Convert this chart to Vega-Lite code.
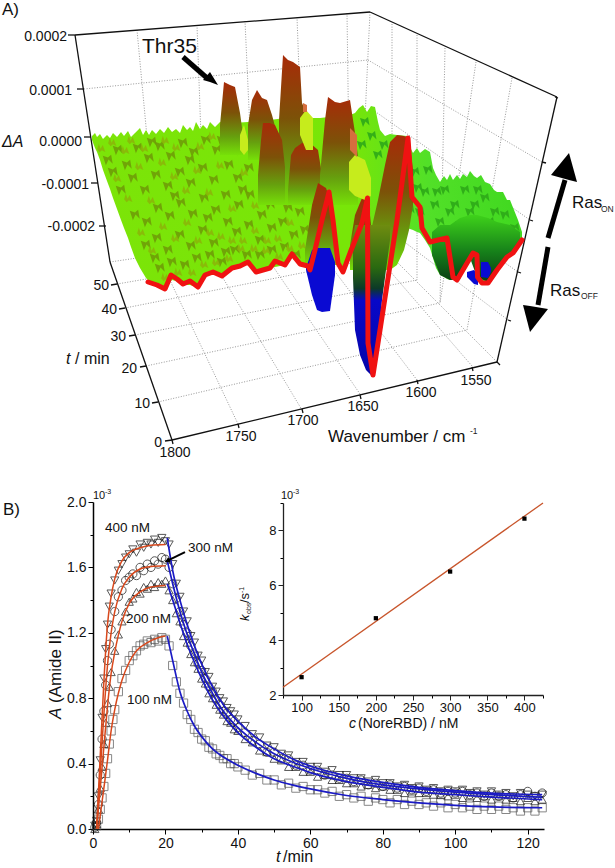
{"$schema":"https://vega.github.io/schema/vega-lite/v6.json","width":615,"height":868,"autosize":"none","padding":0,"background":"white","config":{"view":{"stroke":null},"text":{"font":"Liberation Sans"}},"resolve":{"scale":{"x":"independent","y":"independent"}},
"layer":[
{"data":{"values":[{"t":10,"A":0.2}]},"mark":{"type":"point","opacity":0},"encoding":{"x":{"field":"t","type":"quantitative","scale":{"domain":[0,124.5],"range":[93,544],"nice":false,"zero":false},"axis":{"orient":"bottom","offset":-39,"values":[10,30,50,70,90,110],"labels":false,"title":null,"domain":false,"grid":false,"tickSize":3,"tickColor":"#000"}},"y":{"field":"A","type":"quantitative","scale":{"domain":[0,2],"range":[829,502],"nice":false,"zero":false},"axis":{"orient":"left","offset":-93,"values":[0.2,0.6,1.0,1.4,1.8],"labels":false,"title":null,"domain":false,"grid":false,"tickSize":3,"tickColor":"#000"}}}},
{"data":{"values":[{"c":125,"k":3}]},"mark":{"type":"point","opacity":0},"encoding":{"x":{"field":"c","type":"quantitative","scale":{"domain":[75,425],"range":[283,543],"nice":false,"zero":false},"axis":{"orient":"bottom","offset":-173,"values":[75,125,175,225,275,325,375,425],"labels":false,"title":null,"domain":false,"grid":false,"tickSize":3,"tickColor":"#000"}},"y":{"field":"k","type":"quantitative","scale":{"domain":[2,9],"range":[695,503],"nice":false,"zero":false},"axis":{"orient":"left","offset":-283,"values":[3,5,7,9],"labels":false,"title":null,"domain":false,"grid":false,"tickSize":3,"tickColor":"#000"}}}},
{"encoding":{"x":{"field":"t","type":"quantitative","scale":{"domain":[0,124.5],"range":[93,544],"nice":false,"zero":false},"axis":{"orient":"bottom","offset":-39,"values":[0,20,40,60,80,100,120],"title":null,"grid":false,"tickSize":5,"tickColor":"#000","domainColor":"#000","domainWidth":1.5,"labelFont":"Liberation Sans","labelFontSize":14,"labelColor":"#111","labelPadding":2,"labelFlush":false,"labelOverlap":false}},"y":{"field":"A","type":"quantitative","scale":{"domain":[0,2],"range":[829,502],"nice":false,"zero":false},"axis":{"orient":"left","offset":-93,"values":[0,0.4,0.8,1.2,1.6,2.0],"format":".1f","title":null,"grid":false,"tickSize":5,"tickColor":"#000","domainColor":"#000","domainWidth":1.5,"labelFont":"Liberation Sans","labelFontSize":14,"labelColor":"#111","labelPadding":2,"labelOverlap":false}}},
"layer":[
{"data":{"name":"obs","values":[
{"s":"100","t":1,"A":0.02},{"s":"100","t":1.5,"A":0.06},{"s":"100","t":2,"A":0.12},{"s":"100","t":2.5,"A":0.19},{"s":"100","t":3,"A":0.26},{"s":"100","t":3.5,"A":0.34},{"s":"100","t":4,"A":0.43},{"s":"100","t":4.5,"A":0.52},{"s":"100","t":5,"A":0.6},{"s":"100","t":5.5,"A":0.67},{"s":"100","t":6,"A":0.73},{"s":"100","t":7,"A":0.84},{"s":"100","t":8,"A":0.92},{"s":"100","t":9,"A":0.97},{"s":"100","t":10,"A":1.03},{"s":"100","t":11,"A":1.06},{"s":"100","t":12,"A":1.09},{"s":"100","t":13,"A":1.12},{"s":"100","t":14,"A":1.13},{"s":"100","t":15,"A":1.15},{"s":"100","t":16,"A":1.14},{"s":"100","t":17,"A":1.16},{"s":"100","t":18,"A":1.15},{"s":"100","t":19,"A":1.17},{"s":"100","t":20,"A":1.16},
{"s":"100","t":21,"A":1.12},{"s":"100","t":22,"A":1.0},{"s":"100","t":23,"A":0.9},{"s":"100","t":24,"A":0.83},{"s":"100","t":25,"A":0.77},{"s":"100","t":26,"A":0.7},{"s":"100","t":27,"A":0.67},{"s":"100","t":28,"A":0.61},{"s":"100","t":29,"A":0.59},{"s":"100","t":30,"A":0.55},{"s":"100","t":31,"A":0.54},{"s":"100","t":32,"A":0.5},{"s":"100","t":33,"A":0.49},{"s":"100","t":34,"A":0.46},{"s":"100","t":35,"A":0.45},{"s":"100","t":36,"A":0.43},{"s":"100","t":37,"A":0.43},{"s":"100","t":38,"A":0.4},{"s":"100","t":39,"A":0.4},{"s":"100","t":40,"A":0.38},{"s":"100","t":42,"A":0.36},{"s":"100","t":44,"A":0.33},{"s":"100","t":46,"A":0.34},{"s":"100","t":48,"A":0.3},{"s":"100","t":50,"A":0.3},{"s":"100","t":52,"A":0.27},{"s":"100","t":54,"A":0.28},{"s":"100","t":56,"A":0.25},{"s":"100","t":58,"A":0.26},{"s":"100","t":60,"A":0.24},{"s":"100","t":62,"A":0.24},{"s":"100","t":64,"A":0.22},{"s":"100","t":66,"A":0.23},{"s":"100","t":68,"A":0.2},{"s":"100","t":70,"A":0.21},{"s":"100","t":72,"A":0.19},{"s":"100","t":74,"A":0.2},{"s":"100","t":76,"A":0.17},{"s":"100","t":78,"A":0.19},{"s":"100","t":80,"A":0.18},{"s":"100","t":82,"A":0.16},{"s":"100","t":84,"A":0.18},{"s":"100","t":86,"A":0.15},{"s":"100","t":88,"A":0.17},{"s":"100","t":90,"A":0.15},{"s":"100","t":92,"A":0.16},{"s":"100","t":94,"A":0.14},{"s":"100","t":96,"A":0.16},{"s":"100","t":98,"A":0.13},{"s":"100","t":100,"A":0.15},{"s":"100","t":102,"A":0.13},{"s":"100","t":104,"A":0.14},{"s":"100","t":106,"A":0.12},{"s":"100","t":108,"A":0.14},{"s":"100","t":110,"A":0.12},{"s":"100","t":112,"A":0.14},{"s":"100","t":114,"A":0.12},{"s":"100","t":116,"A":0.13},{"s":"100","t":118,"A":0.11},{"s":"100","t":120,"A":0.13},{"s":"100","t":122,"A":0.11},{"s":"100","t":124,"A":0.13},
{"s":"200","t":0.5,"A":0},{"s":"200","t":1,"A":0.03},{"s":"200","t":1.5,"A":0.12},{"s":"200","t":2,"A":0.25},{"s":"200","t":2.5,"A":0.38},{"s":"200","t":3,"A":0.52},{"s":"200","t":3.5,"A":0.65},{"s":"200","t":4,"A":0.77},{"s":"200","t":4.5,"A":0.87},{"s":"200","t":5,"A":0.96},{"s":"200","t":6,"A":1.09},{"s":"200","t":7,"A":1.19},{"s":"200","t":8,"A":1.27},{"s":"200","t":9,"A":1.33},{"s":"200","t":10,"A":1.39},{"s":"200","t":11,"A":1.41},{"s":"200","t":12,"A":1.45},{"s":"200","t":13,"A":1.44},{"s":"200","t":14,"A":1.48},{"s":"200","t":15,"A":1.47},{"s":"200","t":16,"A":1.5},{"s":"200","t":17,"A":1.48},{"s":"200","t":18,"A":1.51},{"s":"200","t":19,"A":1.5},{"s":"200","t":20,"A":1.52},
{"s":"200","t":21,"A":1.46},{"s":"200","t":22,"A":1.4},{"s":"200","t":23,"A":1.32},{"s":"200","t":24,"A":1.27},{"s":"200","t":25,"A":1.18},{"s":"200","t":26,"A":1.14},{"s":"200","t":27,"A":1.07},{"s":"200","t":28,"A":1.02},{"s":"200","t":29,"A":0.98},{"s":"200","t":30,"A":0.92},{"s":"200","t":31,"A":0.89},{"s":"200","t":32,"A":0.83},{"s":"200","t":33,"A":0.8},{"s":"200","t":34,"A":0.76},{"s":"200","t":35,"A":0.73},{"s":"200","t":36,"A":0.7},{"s":"200","t":37,"A":0.66},{"s":"200","t":38,"A":0.65},{"s":"200","t":39,"A":0.61},{"s":"200","t":40,"A":0.6},{"s":"200","t":42,"A":0.55},{"s":"200","t":44,"A":0.53},{"s":"200","t":46,"A":0.48},{"s":"200","t":48,"A":0.47},{"s":"200","t":50,"A":0.43},{"s":"200","t":52,"A":0.42},{"s":"200","t":54,"A":0.38},{"s":"200","t":56,"A":0.38},{"s":"200","t":58,"A":0.35},{"s":"200","t":60,"A":0.35},{"s":"200","t":62,"A":0.32},{"s":"200","t":64,"A":0.33},{"s":"200","t":66,"A":0.3},{"s":"200","t":68,"A":0.3},{"s":"200","t":70,"A":0.28},{"s":"200","t":72,"A":0.28},{"s":"200","t":74,"A":0.26},{"s":"200","t":76,"A":0.27},{"s":"200","t":78,"A":0.25},{"s":"200","t":80,"A":0.26},{"s":"200","t":82,"A":0.24},{"s":"200","t":84,"A":0.24},{"s":"200","t":86,"A":0.22},{"s":"200","t":88,"A":0.23},{"s":"200","t":90,"A":0.22},{"s":"200","t":92,"A":0.22},{"s":"200","t":94,"A":0.21},{"s":"200","t":96,"A":0.21},{"s":"200","t":98,"A":0.2},{"s":"200","t":100,"A":0.21},{"s":"200","t":102,"A":0.19},{"s":"200","t":104,"A":0.2},{"s":"200","t":106,"A":0.19},{"s":"200","t":108,"A":0.2},{"s":"200","t":110,"A":0.18},{"s":"200","t":112,"A":0.2},{"s":"200","t":114,"A":0.18},{"s":"200","t":116,"A":0.19},{"s":"200","t":118,"A":0.17},{"s":"200","t":120,"A":0.19},{"s":"200","t":122,"A":0.17},{"s":"200","t":124,"A":0.18},
{"s":"300","t":0.5,"A":0.01},{"s":"300","t":1,"A":0.04},{"s":"300","t":1.5,"A":0.15},{"s":"300","t":2,"A":0.33},{"s":"300","t":2.5,"A":0.55},{"s":"300","t":3,"A":0.72},{"s":"300","t":3.5,"A":0.88},{"s":"300","t":4,"A":1.03},{"s":"300","t":4.5,"A":1.13},{"s":"300","t":5,"A":1.22},{"s":"300","t":6,"A":1.33},{"s":"300","t":7,"A":1.42},{"s":"300","t":8,"A":1.46},{"s":"300","t":9,"A":1.52},{"s":"300","t":10,"A":1.54},{"s":"300","t":11,"A":1.56},{"s":"300","t":12,"A":1.55},{"s":"300","t":13,"A":1.6},{"s":"300","t":14,"A":1.58},{"s":"300","t":15,"A":1.62},{"s":"300","t":16,"A":1.6},{"s":"300","t":17,"A":1.64},{"s":"300","t":18,"A":1.62},{"s":"300","t":19,"A":1.66},{"s":"300","t":20,"A":1.65},
{"s":"300","t":21,"A":1.6},{"s":"300","t":22,"A":1.5},{"s":"300","t":23,"A":1.41},{"s":"300","t":24,"A":1.33},{"s":"300","t":25,"A":1.25},{"s":"300","t":26,"A":1.2},{"s":"300","t":27,"A":1.12},{"s":"300","t":28,"A":1.07},{"s":"300","t":29,"A":1.01},{"s":"300","t":30,"A":0.97},{"s":"300","t":31,"A":0.92},{"s":"300","t":32,"A":0.87},{"s":"300","t":33,"A":0.84},{"s":"300","t":34,"A":0.79},{"s":"300","t":35,"A":0.76},{"s":"300","t":36,"A":0.72},{"s":"300","t":37,"A":0.71},{"s":"300","t":38,"A":0.67},{"s":"300","t":39,"A":0.66},{"s":"300","t":40,"A":0.62},{"s":"300","t":42,"A":0.59},{"s":"300","t":44,"A":0.54},{"s":"300","t":46,"A":0.52},{"s":"300","t":48,"A":0.47},{"s":"300","t":50,"A":0.47},{"s":"300","t":52,"A":0.43},{"s":"300","t":54,"A":0.43},{"s":"300","t":56,"A":0.39},{"s":"300","t":58,"A":0.39},{"s":"300","t":60,"A":0.36},{"s":"300","t":62,"A":0.36},{"s":"300","t":64,"A":0.33},{"s":"300","t":66,"A":0.33},{"s":"300","t":68,"A":0.31},{"s":"300","t":70,"A":0.31},{"s":"300","t":72,"A":0.29},{"s":"300","t":74,"A":0.3},{"s":"300","t":76,"A":0.27},{"s":"300","t":78,"A":0.28},{"s":"300","t":80,"A":0.26},{"s":"300","t":82,"A":0.27},{"s":"300","t":84,"A":0.25},{"s":"300","t":86,"A":0.26},{"s":"300","t":88,"A":0.24},{"s":"300","t":90,"A":0.25},{"s":"300","t":92,"A":0.23},{"s":"300","t":94,"A":0.24},{"s":"300","t":96,"A":0.22},{"s":"300","t":98,"A":0.23},{"s":"300","t":100,"A":0.22},{"s":"300","t":102,"A":0.23},{"s":"300","t":104,"A":0.21},{"s":"300","t":106,"A":0.22},{"s":"300","t":108,"A":0.2},{"s":"300","t":110,"A":0.22},{"s":"300","t":112,"A":0.2},{"s":"300","t":114,"A":0.21},{"s":"300","t":116,"A":0.19},{"s":"300","t":118,"A":0.21},{"s":"300","t":120,"A":0.23},{"s":"300","t":122,"A":0.2},{"s":"300","t":124,"A":0.22},
{"s":"400","t":0.5,"A":0.02},{"s":"400","t":1,"A":0.05},{"s":"400","t":1.5,"A":0.2},{"s":"400","t":2,"A":0.42},{"s":"400","t":2.5,"A":0.68},{"s":"400","t":3,"A":0.92},{"s":"400","t":3.5,"A":1.1},{"s":"400","t":4,"A":1.25},{"s":"400","t":4.5,"A":1.36},{"s":"400","t":5,"A":1.44},{"s":"400","t":6,"A":1.52},{"s":"400","t":7,"A":1.58},{"s":"400","t":8,"A":1.62},{"s":"400","t":9,"A":1.66},{"s":"400","t":10,"A":1.68},{"s":"400","t":11,"A":1.71},{"s":"400","t":12,"A":1.69},{"s":"400","t":13,"A":1.74},{"s":"400","t":14,"A":1.72},{"s":"400","t":15,"A":1.75},{"s":"400","t":16,"A":1.74},{"s":"400","t":17,"A":1.77},{"s":"400","t":18,"A":1.75},{"s":"400","t":19,"A":1.78},{"s":"400","t":20,"A":1.76},
{"s":"400","t":21,"A":1.74},{"s":"400","t":22,"A":1.62},{"s":"400","t":23,"A":1.5},{"s":"400","t":24,"A":1.42},{"s":"400","t":25,"A":1.33},{"s":"400","t":26,"A":1.27},{"s":"400","t":27,"A":1.18},{"s":"400","t":28,"A":1.14},{"s":"400","t":29,"A":1.06},{"s":"400","t":30,"A":1.03},{"s":"400","t":31,"A":0.96},{"s":"400","t":32,"A":0.93},{"s":"400","t":33,"A":0.87},{"s":"400","t":34,"A":0.84},{"s":"400","t":35,"A":0.8},{"s":"400","t":36,"A":0.78},{"s":"400","t":37,"A":0.74},{"s":"400","t":38,"A":0.72},{"s":"400","t":39,"A":0.7},{"s":"400","t":40,"A":0.67},{"s":"400","t":42,"A":0.63},{"s":"400","t":44,"A":0.58},{"s":"400","t":46,"A":0.56},{"s":"400","t":48,"A":0.51},{"s":"400","t":50,"A":0.5},{"s":"400","t":52,"A":0.46},{"s":"400","t":54,"A":0.45},{"s":"400","t":56,"A":0.41},{"s":"400","t":58,"A":0.41},{"s":"400","t":60,"A":0.38},{"s":"400","t":62,"A":0.38},{"s":"400","t":64,"A":0.35},{"s":"400","t":66,"A":0.36},{"s":"400","t":68,"A":0.33},{"s":"400","t":70,"A":0.33},{"s":"400","t":72,"A":0.31},{"s":"400","t":74,"A":0.31},{"s":"400","t":76,"A":0.29},{"s":"400","t":78,"A":0.3},{"s":"400","t":80,"A":0.28},{"s":"400","t":82,"A":0.28},{"s":"400","t":84,"A":0.26},{"s":"400","t":86,"A":0.27},{"s":"400","t":88,"A":0.25},{"s":"400","t":90,"A":0.26},{"s":"400","t":92,"A":0.24},{"s":"400","t":94,"A":0.25},{"s":"400","t":96,"A":0.23},{"s":"400","t":98,"A":0.24},{"s":"400","t":100,"A":0.23},{"s":"400","t":102,"A":0.24},{"s":"400","t":104,"A":0.22},{"s":"400","t":106,"A":0.23},{"s":"400","t":108,"A":0.21},{"s":"400","t":110,"A":0.23},{"s":"400","t":112,"A":0.21},{"s":"400","t":114,"A":0.22},{"s":"400","t":116,"A":0.2},{"s":"400","t":118,"A":0.22},{"s":"400","t":120,"A":0.21},{"s":"400","t":122,"A":0.2},{"s":"400","t":124,"A":0.21}
]},"mark":{"type":"point","filled":false,"size":68,"strokeWidth":1},"encoding":{"shape":{"field":"s","type":"nominal","legend":null,"scale":{"domain":["100","200","300","400"],"range":["square","triangle-up","circle","triangle-down"]}},"color":{"field":"s","type":"nominal","legend":null,"scale":{"domain":["100","200","300","400"],"range":["#555555","#111111","#111111","#111111"]}}}},
{"data":{"values":[
{"s":"400","t":1,"A":0},{"s":"400","t":2,"A":0.45},{"s":"400","t":3,"A":0.9},{"s":"400","t":4,"A":1.25},{"s":"400","t":5,"A":1.42},{"s":"400","t":6,"A":1.53},{"s":"400","t":8,"A":1.64},{"s":"400","t":10,"A":1.69},{"s":"400","t":13,"A":1.72},{"s":"400","t":16,"A":1.735},{"s":"400","t":20,"A":1.74},
{"s":"300","t":1,"A":0},{"s":"300","t":2,"A":0.35},{"s":"300","t":3,"A":0.7},{"s":"300","t":4,"A":1.0},{"s":"300","t":5,"A":1.2},{"s":"300","t":6,"A":1.33},{"s":"300","t":8,"A":1.47},{"s":"300","t":10,"A":1.54},{"s":"300","t":13,"A":1.59},{"s":"300","t":16,"A":1.605},{"s":"300","t":20,"A":1.61},
{"s":"200","t":1,"A":0},{"s":"200","t":2,"A":0.25},{"s":"200","t":3,"A":0.5},{"s":"200","t":4,"A":0.75},{"s":"200","t":5,"A":0.95},{"s":"200","t":6,"A":1.08},{"s":"200","t":8,"A":1.27},{"s":"200","t":10,"A":1.38},{"s":"200","t":13,"A":1.45},{"s":"200","t":16,"A":1.48},{"s":"200","t":20,"A":1.49},
{"s":"100","t":1.5,"A":0},{"s":"100","t":3,"A":0.25},{"s":"100","t":4,"A":0.42},{"s":"100","t":5,"A":0.6},{"s":"100","t":6,"A":0.73},{"s":"100","t":7,"A":0.83},{"s":"100","t":8,"A":0.91},{"s":"100","t":10,"A":1.02},{"s":"100","t":12,"A":1.09},{"s":"100","t":15,"A":1.14},{"s":"100","t":18,"A":1.17},{"s":"100","t":20,"A":1.18}
]},"mark":{"type":"line","color":"#d8481c","strokeWidth":1.5,"interpolate":"monotone"},"encoding":{"detail":{"field":"s"}}},
{"data":{"values":[
{"s":"400","t":20.5,"A":1.78},{"s":"400","t":22,"A":1.58},{"s":"400","t":24,"A":1.4},{"s":"400","t":26,"A":1.25},{"s":"400","t":28,"A":1.12},{"s":"400","t":30,"A":1.01},{"s":"400","t":33,"A":0.87},{"s":"400","t":36,"A":0.76},{"s":"400","t":40,"A":0.66},{"s":"400","t":45,"A":0.56},{"s":"400","t":50,"A":0.49},{"s":"400","t":55,"A":0.43},{"s":"400","t":60,"A":0.385},{"s":"400","t":70,"A":0.325},{"s":"400","t":80,"A":0.285},{"s":"400","t":90,"A":0.255},{"s":"400","t":100,"A":0.235},{"s":"400","t":110,"A":0.22},{"s":"400","t":124,"A":0.21},
{"s":"300","t":20.5,"A":1.64},{"s":"300","t":22,"A":1.5},{"s":"300","t":24,"A":1.33},{"s":"300","t":26,"A":1.19},{"s":"300","t":28,"A":1.07},{"s":"300","t":30,"A":0.96},{"s":"300","t":33,"A":0.83},{"s":"300","t":36,"A":0.72},{"s":"300","t":40,"A":0.62},{"s":"300","t":45,"A":0.53},{"s":"300","t":50,"A":0.46},{"s":"300","t":55,"A":0.41},{"s":"300","t":60,"A":0.37},{"s":"300","t":70,"A":0.31},{"s":"300","t":80,"A":0.27},{"s":"300","t":90,"A":0.245},{"s":"300","t":100,"A":0.225},{"s":"300","t":110,"A":0.21},{"s":"300","t":124,"A":0.195},
{"s":"200","t":20.5,"A":1.5},{"s":"200","t":22,"A":1.4},{"s":"200","t":24,"A":1.26},{"s":"200","t":26,"A":1.13},{"s":"200","t":28,"A":1.02},{"s":"200","t":30,"A":0.92},{"s":"200","t":33,"A":0.79},{"s":"200","t":36,"A":0.69},{"s":"200","t":40,"A":0.59},{"s":"200","t":45,"A":0.5},{"s":"200","t":50,"A":0.43},{"s":"200","t":55,"A":0.385},{"s":"200","t":60,"A":0.345},{"s":"200","t":70,"A":0.29},{"s":"200","t":80,"A":0.255},{"s":"200","t":90,"A":0.225},{"s":"200","t":100,"A":0.21},{"s":"200","t":110,"A":0.195},{"s":"200","t":124,"A":0.18},
{"s":"100","t":20.5,"A":1.18},{"s":"100","t":22,"A":1.03},{"s":"100","t":24,"A":0.84},{"s":"100","t":26,"A":0.72},{"s":"100","t":28,"A":0.63},{"s":"100","t":30,"A":0.565},{"s":"100","t":33,"A":0.49},{"s":"100","t":36,"A":0.44},{"s":"100","t":40,"A":0.39},{"s":"100","t":45,"A":0.34},{"s":"100","t":50,"A":0.3},{"s":"100","t":55,"A":0.27},{"s":"100","t":60,"A":0.245},{"s":"100","t":70,"A":0.205},{"s":"100","t":80,"A":0.18},{"s":"100","t":90,"A":0.16},{"s":"100","t":100,"A":0.145},{"s":"100","t":110,"A":0.135},{"s":"100","t":124,"A":0.13}
]},"mark":{"type":"line","color":"#1a1ac4","strokeWidth":1.7,"interpolate":"monotone"},"encoding":{"detail":{"field":"s"}}},
{"data":{"values":[{"t":25.4,"A":1.694,"t2":20,"A2":1.635}]},"mark":{"type":"rule","color":"#000","strokeWidth":2},"encoding":{"x2":{"field":"t2"},"y2":{"field":"A2"}}},
{"data":{"values":[{"t":20.5,"A":1.64}]},"mark":{"type":"point","shape":"triangle-left","filled":true,"color":"#000","opacity":1,"size":35,"angle":-25}},
{"data":{"values":[{"t":3.3,"A":1.84,"label":"400 nM"},{"t":26.2,"A":1.72,"label":"300 nM"},{"t":9.1,"A":1.285,"label":"200 nM"},{"t":9.4,"A":0.79,"label":"100 nM"}]},"mark":{"type":"text","align":"left","baseline":"middle","fontSize":13.5,"color":"#111"},"encoding":{"text":{"field":"label"}}}
]},
{"encoding":{"x":{"field":"c","type":"quantitative","scale":{"domain":[75,425],"range":[283,543],"nice":false,"zero":false},"axis":{"orient":"bottom","offset":-173,"values":[100,150,200,250,300,350,400],"title":null,"grid":false,"tickSize":5,"tickColor":"#222","domainColor":"#222","domainWidth":1.3,"labelFont":"Liberation Sans","labelFontSize":13,"labelColor":"#111","labelPadding":1,"labelOverlap":false}},"y":{"field":"k","type":"quantitative","scale":{"domain":[2,9],"range":[695,503],"nice":false,"zero":false},"axis":{"orient":"left","offset":-283,"values":[2,4,6,8],"title":null,"grid":false,"tickSize":5,"tickColor":"#222","domainColor":"#222","domainWidth":1.3,"labelFont":"Liberation Sans","labelFontSize":13,"labelColor":"#111","labelPadding":2,"labelOverlap":false}}},
"layer":[
{"data":{"values":[{"c":75,"k":2.28},{"c":425,"k":9.0}]},"mark":{"type":"line","color":"#c8552b","strokeWidth":1.3}},
{"data":{"values":[{"c":100,"k":2.65},{"c":200,"k":4.8},{"c":300,"k":6.5},{"c":400,"k":8.43}]},"mark":{"type":"point","shape":"square","filled":true,"color":"#000","opacity":1,"size":18}}
]},
{"encoding":{"x":{"field":"u","type":"quantitative","scale":{"domain":[0,615],"range":[0,615],"nice":false,"zero":false},"axis":null},"y":{"field":"v","type":"quantitative","scale":{"domain":[0,868],"range":[0,868],"nice":false,"zero":false},"axis":null}},
"layer":[
{"data":{"values":[
{"u":84,"v":89,"u2":368,"v2":60},{"u":137,"v":30,"u2":158,"v2":255},{"u":197,"v":25,"u2":205,"v2":248},{"u":245,"v":21,"u2":255,"v2":240},{"u":297,"v":17,"u2":305,"v2":232},{"u":347,"v":13,"u2":350,"v2":225},{"u":370,"v":12,"u2":360,"v2":225},
{"u":392,"v":24,"u2":392,"v2":255},{"u":417,"v":35,"u2":417,"v2":280},{"u":445,"v":48,"u2":440,"v2":303},{"u":476,"v":62,"u2":440,"v2":303},{"u":512,"v":78,"u2":467,"v2":330},
{"u":368,"v":60,"u2":542,"v2":162},{"u":373,"v":110,"u2":530,"v2":220},{"u":365,"v":165,"u2":518,"v2":272},{"u":362,"v":210,"u2":508,"v2":320},
{"u":110,"v":262,"u2":360,"v2":225},{"u":117,"v":284,"u2":375,"v2":240},{"u":125,"v":308,"u2":392,"v2":255},{"u":135,"v":335,"u2":417,"v2":280},{"u":146,"v":366,"u2":440,"v2":303},{"u":158,"v":402,"u2":467,"v2":330},{"u":360,"v":225,"u2":497,"v2":362},
{"u":238,"v":424,"u2":158,"v2":255},{"u":302,"v":410,"u2":205,"v2":248},{"u":360,"v":394,"u2":255,"v2":240},{"u":417,"v":380,"u2":305,"v2":232},{"u":472,"v":366,"u2":350,"v2":225}
]},"mark":{"type":"rule","color":"#8c8c8c","strokeWidth":0.9,"strokeDash":[1,1.6]},"encoding":{"x2":{"field":"u2"},"y2":{"field":"v2"}}},
{"data":{"values":[
{"u":75,"v":35,"u2":110,"v2":262},{"u":110,"v":262,"u2":172,"v2":440},{"u":172,"v":440,"u2":497,"v2":362},{"u":497,"v":362,"u2":557,"v2":97},{"u":75,"v":35,"u2":370,"v2":12},{"u":370,"v":12,"u2":557,"v2":97},
{"u":68,"v":35,"u2":75,"v2":35},{"u":77,"v":89,"u2":84,"v2":89},{"u":84,"v":137,"u2":91,"v2":137},{"u":91,"v":183,"u2":98,"v2":183},{"u":99,"v":226,"u2":106,"v2":226},
{"u":111,"v":285,"u2":117,"v2":284},{"u":119,"v":309,"u2":125,"v2":308},{"u":129,"v":336,"u2":135,"v2":335},{"u":140,"v":367,"u2":146,"v2":366},{"u":152,"v":403,"u2":158,"v2":402},{"u":165,"v":441,"u2":172,"v2":440},
{"u":238,"v":424,"u2":239,"v2":428},{"u":302,"v":409,"u2":303,"v2":413},{"u":360,"v":395,"u2":361,"v2":399},{"u":417,"v":380,"u2":418,"v2":384},{"u":472,"v":367,"u2":473,"v2":371},{"u":172,"v":440,"u2":173,"v2":444},{"u":497,"v":362,"u2":500,"v2":365},
{"u":542,"v":162,"u2":546,"v2":163},{"u":530,"v":220,"u2":533,"v2":221},{"u":518,"v":272,"u2":521,"v2":273},{"u":508,"v":320,"u2":511,"v2":321},{"u":555,"v":97,"u2":558,"v2":98}
]},"mark":{"type":"rule","color":"#111","strokeWidth":1.3},"encoding":{"x2":{"field":"u2"},"y2":{"field":"v2"}}},
{"data":{"values":[
{"u":92,"v":136,"v2":140},{"u":95,"v":133,"v2":148},{"u":97,"v":137,"v2":152},{"u":100,"v":134,"v2":160},{"u":103,"v":139,"v2":170},{"u":107,"v":135,"v2":181},{"u":110,"v":138,"v2":189},{"u":113,"v":133,"v2":198},{"u":117,"v":137,"v2":209},{"u":121,"v":132,"v2":220},{"u":124,"v":136,"v2":228},{"u":128,"v":131,"v2":238},{"u":131,"v":137,"v2":247},{"u":135,"v":133,"v2":258},{"u":140,"v":128,"v2":268},{"u":143,"v":135,"v2":273},{"u":146,"v":130,"v2":278},{"u":149,"v":135,"v2":281},{"u":152,"v":130,"v2":284},{"u":156,"v":134,"v2":286},{"u":160,"v":129,"v2":286},{"u":164,"v":133,"v2":286},{"u":168,"v":127,"v2":284},{"u":172,"v":132,"v2":280},{"u":176,"v":129,"v2":281},{"u":180,"v":133,"v2":283},{"u":183,"v":125,"v2":284},{"u":187,"v":130,"v2":285},{"u":190,"v":127,"v2":285},{"u":193,"v":131,"v2":286},{"u":196,"v":122,"v2":286},{"u":200,"v":129,"v2":282},{"u":203,"v":125,"v2":278},{"u":207,"v":129,"v2":275},{"u":210,"v":122,"v2":273},{"u":215,"v":127,"v2":274},{"u":220,"v":122,"v2":275},{"u":232,"v":123,"v2":268},{"u":248,"v":122,"v2":262},{"u":256,"v":120,"v2":272},{"u":270,"v":120,"v2":268},{"u":285,"v":118,"v2":265},{"u":292,"v":118,"v2":254},{"u":300,"v":117,"v2":264},{"u":310,"v":118,"v2":270},{"u":320,"v":118,"v2":270},{"u":338,"v":116,"v2":263},{"u":343,"v":115,"v2":272},{"u":350,"v":115,"v2":253},{"u":355,"v":113,"v2":245},{"u":359,"v":108,"v2":243},{"u":363,"v":105,"v2":240},{"u":367,"v":112,"v2":240},{"u":371,"v":106,"v2":240},{"u":375,"v":107,"v2":240},{"u":378,"v":122,"v2":240},{"u":380,"v":130,"v2":240},{"u":385,"v":136,"v2":236},{"u":390,"v":134,"v2":232},{"u":397,"v":135,"v2":223},{"u":407,"v":136,"v2":228},{"u":410,"v":147,"v2":229},{"u":413,"v":153,"v2":230},{"u":417,"v":148,"v2":232},{"u":420,"v":153,"v2":233},{"u":425,"v":149,"v2":240},{"u":430,"v":152,"v2":248},{"u":433,"v":168,"v2":258},{"u":436,"v":175,"v2":268},{"u":440,"v":182,"v2":275},{"u":444,"v":176,"v2":277},{"u":447,"v":180,"v2":279},{"u":450,"v":174,"v2":280},{"u":453,"v":180,"v2":280},{"u":457,"v":175,"v2":280},{"u":460,"v":179,"v2":274},{"u":463,"v":174,"v2":268},{"u":467,"v":177,"v2":260},{"u":470,"v":171,"v2":255},{"u":474,"v":176,"v2":260},{"u":477,"v":178,"v2":277},{"u":481,"v":175,"v2":282},{"u":485,"v":182,"v2":283},{"u":490,"v":184,"v2":281},{"u":494,"v":190,"v2":276},{"u":497,"v":192,"v2":270},{"u":503,"v":192,"v2":262},{"u":507,"v":200,"v2":258},{"u":510,"v":200,"v2":255},{"u":514,"v":210,"v2":250},{"u":518,"v":220,"v2":246},{"u":522,"v":232,"v2":240}
]},"mark":{"type":"area","orient":"vertical","color":{"gradient":"linear","x1":0,"y1":0,"x2":1,"y2":0,"stops":[{"offset":0,"color":"#7ce408"},{"offset":0.6,"color":"#78e608"},{"offset":0.78,"color":"#52e028"},{"offset":1,"color":"#40d820"}]}},"encoding":{"y2":{"field":"v2"}}},
{"data":{"values":[
{"u":108,"v":160},{"u":118,"v":150},{"u":127,"v":165},{"u":138,"v":148},{"u":149,"v":158},{"u":160,"v":146},{"u":171,"v":156},{"u":183,"v":143},{"u":194,"v":152},{"u":206,"v":140},{"u":217,"v":150},{"u":229,"v":165},{"u":240,"v":150},{"u":121,"v":190},{"u":133,"v":178},{"u":145,"v":190},{"u":156,"v":175},{"u":168,"v":186},{"u":180,"v":172},{"u":191,"v":183},{"u":203,"v":168},{"u":214,"v":180},{"u":226,"v":195},{"u":238,"v":178},{"u":249,"v":168},{"u":135,"v":215},{"u":147,"v":222},{"u":158,"v":208},{"u":170,"v":216},{"u":181,"v":203},{"u":193,"v":214},{"u":204,"v":198},{"u":216,"v":210},{"u":228,"v":222},{"u":239,"v":205},{"u":250,"v":195},{"u":262,"v":215},{"u":146,"v":245},{"u":157,"v":238},{"u":168,"v":250},{"u":180,"v":235},{"u":191,"v":246},{"u":203,"v":230},{"u":214,"v":243},{"u":226,"v":252},{"u":237,"v":232},{"u":249,"v":225},{"u":260,"v":240},{"u":272,"v":228},{"u":283,"v":222},{"u":294,"v":235},{"u":160,"v":268},{"u":172,"v":262},{"u":185,"v":265},{"u":197,"v":258},{"u":210,"v":255},{"u":222,"v":262},{"u":235,"v":250},{"u":247,"v":255},{"u":260,"v":255},{"u":272,"v":250},{"u":285,"v":247},{"u":296,"v":255},{"u":305,"v":230},{"u":300,"v":212},{"u":113,"v":172},{"u":152,"v":142},{"u":190,"v":160},{"u":222,"v":140},{"u":175,"v":196},{"u":208,"v":218},{"u":243,"v":190},{"u":155,"v":258},{"u":270,"v":205},{"u":288,"v":208}
]},"mark":{"type":"point","shape":"M-1,-0.8 L-0.4,1 L0.1,-0.1 L0.9,0.7 L0.6,-1 L0,-0.5 Z","filled":true,"color":"#6f9c08","opacity":0.9,"size":110}},
{"data":{"values":[
{"u":101,"v":148},{"u":112,"v":142},{"u":125,"v":150},{"u":131,"v":140},{"u":144,"v":148},{"u":165,"v":140},{"u":176,"v":147},{"u":200,"v":146},{"u":212,"v":136},{"u":234,"v":142},{"u":117,"v":178},{"u":128,"v":198},{"u":139,"v":166},{"u":151,"v":200},{"u":162,"v":162},{"u":174,"v":176},{"u":186,"v":190},{"u":197,"v":170},{"u":209,"v":192},{"u":220,"v":165},{"u":232,"v":208},{"u":244,"v":172},{"u":255,"v":205},{"u":141,"v":232},{"u":152,"v":250},{"u":163,"v":226},{"u":175,"v":238},{"u":187,"v":222},{"u":198,"v":240},{"u":210,"v":232},{"u":221,"v":236},{"u":232,"v":240},{"u":243,"v":240},{"u":255,"v":230},{"u":267,"v":240},{"u":278,"v":238},{"u":290,"v":222},{"u":302,"v":245},{"u":165,"v":277},{"u":178,"v":272},{"u":192,"v":272},{"u":204,"v":264},{"u":216,"v":262},{"u":229,"v":258},{"u":241,"v":248},{"u":254,"v":248},{"u":266,"v":250},{"u":279,"v":256},{"u":290,"v":248}
]},"mark":{"type":"point","shape":"M-0.9,0.3 L-0.5,-1 L-0.1,0.2 L0.4,-0.7 L1,0.9 L0.2,0.5 L-0.3,1 Z","filled":true,"color":"#8bb60a","opacity":0.9,"size":75}},
{"data":{"values":[{"u":365,"v":122},{"u":372,"v":136},{"u":378,"v":155},{"u":415,"v":172},{"u":425,"v":192},{"u":435,"v":205},{"u":445,"v":190},{"u":455,"v":205},{"u":465,"v":190},{"u":475,"v":205},{"u":485,"v":198},{"u":495,"v":212},{"u":505,"v":215},{"u":515,"v":228},{"u":420,"v":212},{"u":440,"v":222},{"u":460,"v":225},{"u":480,"v":228},{"u":500,"v":235},{"u":428,"v":170},{"u":400,"v":200},{"u":418,"v":188},{"u":450,"v":212},{"u":470,"v":212},{"u":490,"v":222},{"u":362,"v":145},{"u":384,"v":145},{"u":410,"v":210},{"u":437,"v":192},{"u":478,"v":190}]},"mark":{"type":"point","shape":"M-1,-0.8 L-0.4,1 L0.1,-0.1 L0.9,0.7 L0.6,-1 L0,-0.5 Z","filled":true,"color":"#2ea818","opacity":0.9,"size":100}},
{"data":{"values":[{"u":432,"v":232,"v2":255},{"u":440,"v":225,"v2":275},{"u":450,"v":225,"v2":280},{"u":460,"v":218,"v2":279},{"u":470,"v":215,"v2":258},{"u":477,"v":215,"v2":277},{"u":488,"v":218,"v2":282},{"u":497,"v":222,"v2":270},{"u":510,"v":225,"v2":256},{"u":520,"v":232,"v2":243}]},"mark":{"type":"area","orient":"vertical","color":{"gradient":"linear","x1":0,"y1":0,"x2":0,"y2":1,"stops":[{"offset":0,"color":"#3ed21a"},{"offset":0.55,"color":"#16801a"},{"offset":1,"color":"#0a3c12"}]}},"encoding":{"y2":{"field":"v2"}}},
{"data":{"values":[
{"p":"a","u":220,"v":125,"v2":155},{"p":"a","u":224,"v":82,"v2":155},{"p":"a","u":230,"v":85,"v2":155},{"p":"a","u":235,"v":87,"v2":155},{"p":"a","u":240,"v":113,"v2":155},{"p":"a","u":243,"v":135,"v2":155},
{"p":"b","u":248,"v":125,"v2":160},{"p":"b","u":252,"v":100,"v2":160},{"p":"b","u":257,"v":90,"v2":160},{"p":"b","u":262,"v":98,"v2":160},{"p":"b","u":267,"v":100,"v2":160},{"p":"b","u":272,"v":115,"v2":160},{"p":"b","u":276,"v":130,"v2":160},
{"p":"c","u":279,"v":120,"v2":205},{"p":"c","u":283,"v":55,"v2":205},{"p":"c","u":288,"v":60,"v2":205},{"p":"c","u":293,"v":62,"v2":205},{"p":"c","u":300,"v":67,"v2":205},{"p":"c","u":302,"v":103,"v2":205},{"p":"c","u":305,"v":110,"v2":205},
{"p":"d","u":258,"v":175,"v2":205},{"p":"d","u":261,"v":140,"v2":205},{"p":"d","u":263,"v":123,"v2":205},{"p":"d","u":270,"v":123,"v2":205},{"p":"d","u":275,"v":125,"v2":205},{"p":"d","u":282,"v":140,"v2":205},{"p":"d","u":285,"v":167,"v2":205},
{"p":"e","u":288,"v":190,"v2":205},{"p":"e","u":291,"v":155,"v2":205},{"p":"e","u":295,"v":148,"v2":205},{"p":"e","u":302,"v":143,"v2":205},{"p":"e","u":310,"v":143,"v2":205},{"p":"e","u":318,"v":150,"v2":205},{"p":"e","u":322,"v":175,"v2":205},
{"p":"f","u":320,"v":175,"v2":205},{"p":"f","u":325,"v":120,"v2":205},{"p":"f","u":328,"v":97,"v2":205},{"p":"f","u":335,"v":102,"v2":205},{"p":"f","u":340,"v":103,"v2":205},{"p":"f","u":350,"v":100,"v2":205},{"p":"f","u":355,"v":133,"v2":205},{"p":"f","u":358,"v":157,"v2":205},
{"p":"g","u":370,"v":235,"v2":270},{"p":"g","u":378,"v":200,"v2":270},{"p":"g","u":385,"v":165,"v2":270},{"p":"g","u":390,"v":142,"v2":270},{"p":"g","u":397,"v":135,"v2":265},{"p":"g","u":404,"v":136,"v2":250},{"p":"g","u":409,"v":138,"v2":230},{"p":"g","u":413,"v":170,"v2":205},
{"p":"h","u":305,"v":250,"v2":265},{"p":"h","u":312,"v":205,"v2":265},{"p":"h","u":318,"v":183,"v2":265},{"p":"h","u":326,"v":188,"v2":265},{"p":"h","u":332,"v":205,"v2":265},{"p":"h","u":336,"v":230,"v2":265},
{"p":"i","u":350,"v":245,"v2":270},{"p":"i","u":355,"v":215,"v2":270},{"p":"i","u":362,"v":198,"v2":270},{"p":"i","u":368,"v":196,"v2":270},{"p":"i","u":371,"v":225,"v2":270}
]},"mark":{"type":"area","orient":"vertical","color":{"gradient":"linear","x1":0,"y1":0,"x2":0,"y2":1,"stops":[{"offset":0,"color":"#a82a08"},{"offset":0.42,"color":"#7c5208"},{"offset":0.75,"color":"#66a00e"},{"offset":1,"color":"#76e008"}]}},"encoding":{"detail":{"field":"p"},"y2":{"field":"v2"}}},
{"data":{"values":[{"p":"a","u":300,"v":118,"v2":135},{"p":"a","u":306,"v":110,"v2":150},{"p":"a","u":313,"v":118,"v2":150},{"p":"b","u":349,"v":162,"v2":190},{"p":"b","u":355,"v":155,"v2":196},{"p":"b","u":365,"v":160,"v2":200},{"p":"b","u":371,"v":178,"v2":196},{"p":"c","u":240,"v":135,"v2":150},{"p":"c","u":244,"v":125,"v2":155},{"p":"c","u":248,"v":140,"v2":150}]},"mark":{"type":"area","orient":"vertical","color":"#c6ec1c"},"encoding":{"detail":{"field":"p"},"y2":{"field":"v2"}}},
{"data":{"values":[{"p":"a","u":303,"v":103,"v2":112},{"p":"a","u":307,"v":105,"v2":112},{"p":"b","u":350,"v":128,"v2":150},{"p":"b","u":357,"v":135,"v2":157}]},"mark":{"type":"area","orient":"vertical","color":"#d66e3e"},"encoding":{"detail":{"field":"p"},"y2":{"field":"v2"}}},
{"data":{"values":[{"u":306,"v":268,"v2":270},{"u":312,"v":250,"v2":295},{"u":317,"v":248,"v2":310},{"u":322,"v":248,"v2":312},{"u":330,"v":248,"v2":311},{"u":335,"v":262,"v2":275}]},"mark":{"type":"area","orient":"vertical","color":"#0a0ad2"},"encoding":{"y2":{"field":"v2"}}},
{"data":{"values":[{"u":353,"v":235,"v2":278},{"u":355,"v":225,"v2":330},{"u":360,"v":225,"v2":355},{"u":366,"v":225,"v2":370},{"u":372,"v":225,"v2":376},{"u":378,"v":225,"v2":345},{"u":382,"v":225,"v2":300},{"u":390,"v":225,"v2":240}]},"mark":{"type":"area","orient":"vertical","color":{"gradient":"linear","x1":0,"y1":0,"x2":0,"y2":1,"stops":[{"offset":0,"color":"#6f8c10"},{"offset":0.28,"color":"#2a6a10"},{"offset":0.42,"color":"#0c3a28"},{"offset":0.5,"color":"#0808c8"},{"offset":1,"color":"#0505a8"}]}},"encoding":{"y2":{"field":"v2"}}},
{"data":{"values":[{"p":"a","u":467,"v":272,"v2":277},{"p":"a","u":474,"v":270,"v2":284},{"p":"a","u":478,"v":275,"v2":285},{"p":"b","u":481,"v":262,"v2":277},{"p":"b","u":488,"v":262,"v2":278},{"p":"b","u":491,"v":268,"v2":272}]},"mark":{"type":"area","orient":"vertical","color":"#0a0ad2"},"encoding":{"detail":{"field":"p"},"y2":{"field":"v2"}}},
{"data":{"values":[{"u":148,"v":282},{"u":157,"v":285},{"u":165,"v":289},{"u":171,"v":275},{"u":177,"v":279},{"u":183,"v":284},{"u":190,"v":281},{"u":198,"v":287},{"u":205,"v":275},{"u":213,"v":272},{"u":222,"v":276},{"u":232,"v":268},{"u":240,"v":266},{"u":248,"v":262},{"u":256,"v":272},{"u":263,"v":270},{"u":270,"v":268},{"u":275,"v":261},{"u":285,"v":265},{"u":292,"v":254},{"u":300,"v":264},{"u":308,"v":266},{"u":310,"v":270},{"u":315,"v":250},{"u":322,"v":220},{"u":329,"v":192},{"u":333,"v":220},{"u":338,"v":263},{"u":343,"v":272},{"u":350,"v":253},{"u":362,"v":223},{"u":367.5,"v":198},{"u":368,"v":343},{"u":373,"v":375},{"u":380,"v":330},{"u":397,"v":220},{"u":408,"v":138},{"u":412,"v":197},{"u":420,"v":207},{"u":422,"v":228},{"u":430,"v":242},{"u":438,"v":240},{"u":447,"v":238},{"u":453,"v":277},{"u":457,"v":280},{"u":473,"v":253},{"u":477,"v":255},{"u":477.5,"v":277},{"u":482,"v":283},{"u":488,"v":283},{"u":497,"v":270},{"u":507,"v":257},{"u":513,"v":253},{"u":522,"v":240}]},"mark":{"type":"line","color":"#f01212","strokeWidth":5,"strokeJoin":"round","strokeCap":"round"}},
{"data":{"values":[{"u":565,"v":180,"u2":548,"v2":238},{"u":548,"v":247,"u2":538,"v2":305},{"u":183,"v":57,"u2":207,"v2":78}]},"mark":{"type":"rule","color":"#000","strokeWidth":5},"encoding":{"x2":{"field":"u2"},"y2":{"field":"v2"}}},
{"data":{"values":[{"p":"a","u":551,"v":175,"v2":175},{"p":"a","u":569,"v":153,"v2":180},{"p":"a","u":577,"v":182,"v2":182},{"p":"b","u":523,"v":305,"v2":305},{"p":"b","u":530,"v":306,"v2":332},{"p":"b","u":548,"v":309,"v2":309},{"p":"c","u":203,"v":80,"v2":80},{"p":"c","u":210,"v":72,"v2":82},{"p":"c","u":218,"v":85,"v2":85}]},"mark":{"type":"area","orient":"vertical","color":"#000"},"encoding":{"detail":{"field":"p"},"y2":{"field":"v2"}}},
{"data":{"values":[{"u":67,"v":37,"label":"0.0002"},{"u":72,"v":91,"label":"0.0001"},{"u":82,"v":142,"label":"0.0000"},{"u":89,"v":185,"label":"-0.0001"},{"u":95,"v":227,"label":"-0.0002"},{"u":109,"v":286,"label":"50"},{"u":117,"v":310,"label":"40"},{"u":126,"v":337,"label":"30"},{"u":137,"v":369,"label":"20"},{"u":150,"v":404,"label":"10"},{"u":162,"v":443,"label":"0"}]},"mark":{"type":"text","align":"right","baseline":"middle","fontSize":14,"color":"#111"},"encoding":{"text":{"field":"label"}}},
{"data":{"values":[{"u":175,"v":453,"label":"1800"},{"u":241,"v":437,"label":"1750"},{"u":303,"v":421,"label":"1700"},{"u":363,"v":407,"label":"1650"},{"u":421,"v":393,"label":"1600"},{"u":476,"v":381,"label":"1550"}]},"mark":{"type":"text","align":"center","baseline":"middle","fontSize":14,"color":"#111"},"encoding":{"text":{"field":"label"}}},
{"data":{"values":[{"u":2,"v":15,"label":"A)"},{"u":3,"v":515,"label":"B)"},{"u":328,"v":442,"label":"Wavenumber / cm"},{"u":572,"v":208,"label":"Ras"},{"u":550,"v":296,"label":"Ras"}]},"mark":{"type":"text","align":"left","baseline":"alphabetic","fontSize":17,"color":"#111"},"encoding":{"text":{"field":"label"}}},
{"data":{"values":[{"u":142,"v":53,"label":"Thr35"}]},"mark":{"type":"text","align":"left","baseline":"alphabetic","fontSize":21,"color":"#111"},"encoding":{"text":{"field":"label"}}},
{"data":{"values":[{"u":2,"v":147,"label":"ΔA"},{"u":66,"v":364,"label":"t"}]},"mark":{"type":"text","align":"left","baseline":"alphabetic","fontSize":16,"fontStyle":"italic","color":"#111"},"encoding":{"text":{"field":"label"}}},
{"data":{"values":[{"u":75,"v":364,"label":"/ min"},{"u":283,"v":862,"label":"/min"}]},"mark":{"type":"text","align":"left","baseline":"alphabetic","fontSize":16,"color":"#111"},"encoding":{"text":{"field":"label"}}},
{"data":{"values":[{"u":276,"v":862,"label":"t"}]},"mark":{"type":"text","align":"left","baseline":"alphabetic","fontSize":16,"fontStyle":"italic","color":"#111"},"encoding":{"text":{"field":"label"}}},
{"data":{"values":[{"u":470,"v":434,"label":"-1"},{"u":601,"v":212,"label":"ON"},{"u":581,"v":299,"label":"OFF"}]},"mark":{"type":"text","align":"left","baseline":"alphabetic","fontSize":8.5,"color":"#222"},"encoding":{"text":{"field":"label"}}},
{"data":{"values":[{"u":93,"v":499,"label":"10"},{"u":281,"v":499,"label":"10"}]},"mark":{"type":"text","align":"left","baseline":"alphabetic","fontSize":11,"color":"#111"},"encoding":{"text":{"field":"label"}}},
{"data":{"values":[{"u":105,"v":494,"label":"-3"},{"u":293,"v":494,"label":"-3"}]},"mark":{"type":"text","align":"left","baseline":"alphabetic","fontSize":7,"color":"#111"},"encoding":{"text":{"field":"label"}}},
{"data":{"values":[{"u":349,"v":728,"label":"c"}]},"mark":{"type":"text","align":"left","baseline":"alphabetic","fontSize":14,"fontStyle":"italic","color":"#111"},"encoding":{"text":{"field":"label"}}},
{"data":{"values":[{"u":358,"v":728,"label":"(NoreRBD) / nM"}]},"mark":{"type":"text","align":"left","baseline":"alphabetic","fontSize":14,"color":"#111"},"encoding":{"text":{"field":"label"}}},
{"data":{"values":[{"u":61,"v":719,"label":"A"}]},"mark":{"type":"text","align":"left","baseline":"alphabetic","fontSize":17,"fontStyle":"italic","angle":270,"color":"#111"},"encoding":{"text":{"field":"label"}}},
{"data":{"values":[{"u":61,"v":703,"label":"(Amide II)"}]},"mark":{"type":"text","align":"left","baseline":"alphabetic","fontSize":17,"angle":270,"color":"#111"},"encoding":{"text":{"field":"label"}}},
{"data":{"values":[{"u":249,"v":621,"label":"k"}]},"mark":{"type":"text","align":"left","baseline":"alphabetic","fontSize":13,"fontStyle":"italic","angle":270,"color":"#111"},"encoding":{"text":{"field":"label"}}},
{"data":{"values":[{"u":251,"v":614,"label":"obs"},{"u":244,"v":593,"label":"-1"}]},"mark":{"type":"text","align":"left","baseline":"alphabetic","fontSize":7,"angle":270,"color":"#222"},"encoding":{"text":{"field":"label"}}},
{"data":{"values":[{"u":249,"v":603,"label":"/s"}]},"mark":{"type":"text","align":"left","baseline":"alphabetic","fontSize":13,"angle":270,"color":"#111"},"encoding":{"text":{"field":"label"}}}
]}
]}
